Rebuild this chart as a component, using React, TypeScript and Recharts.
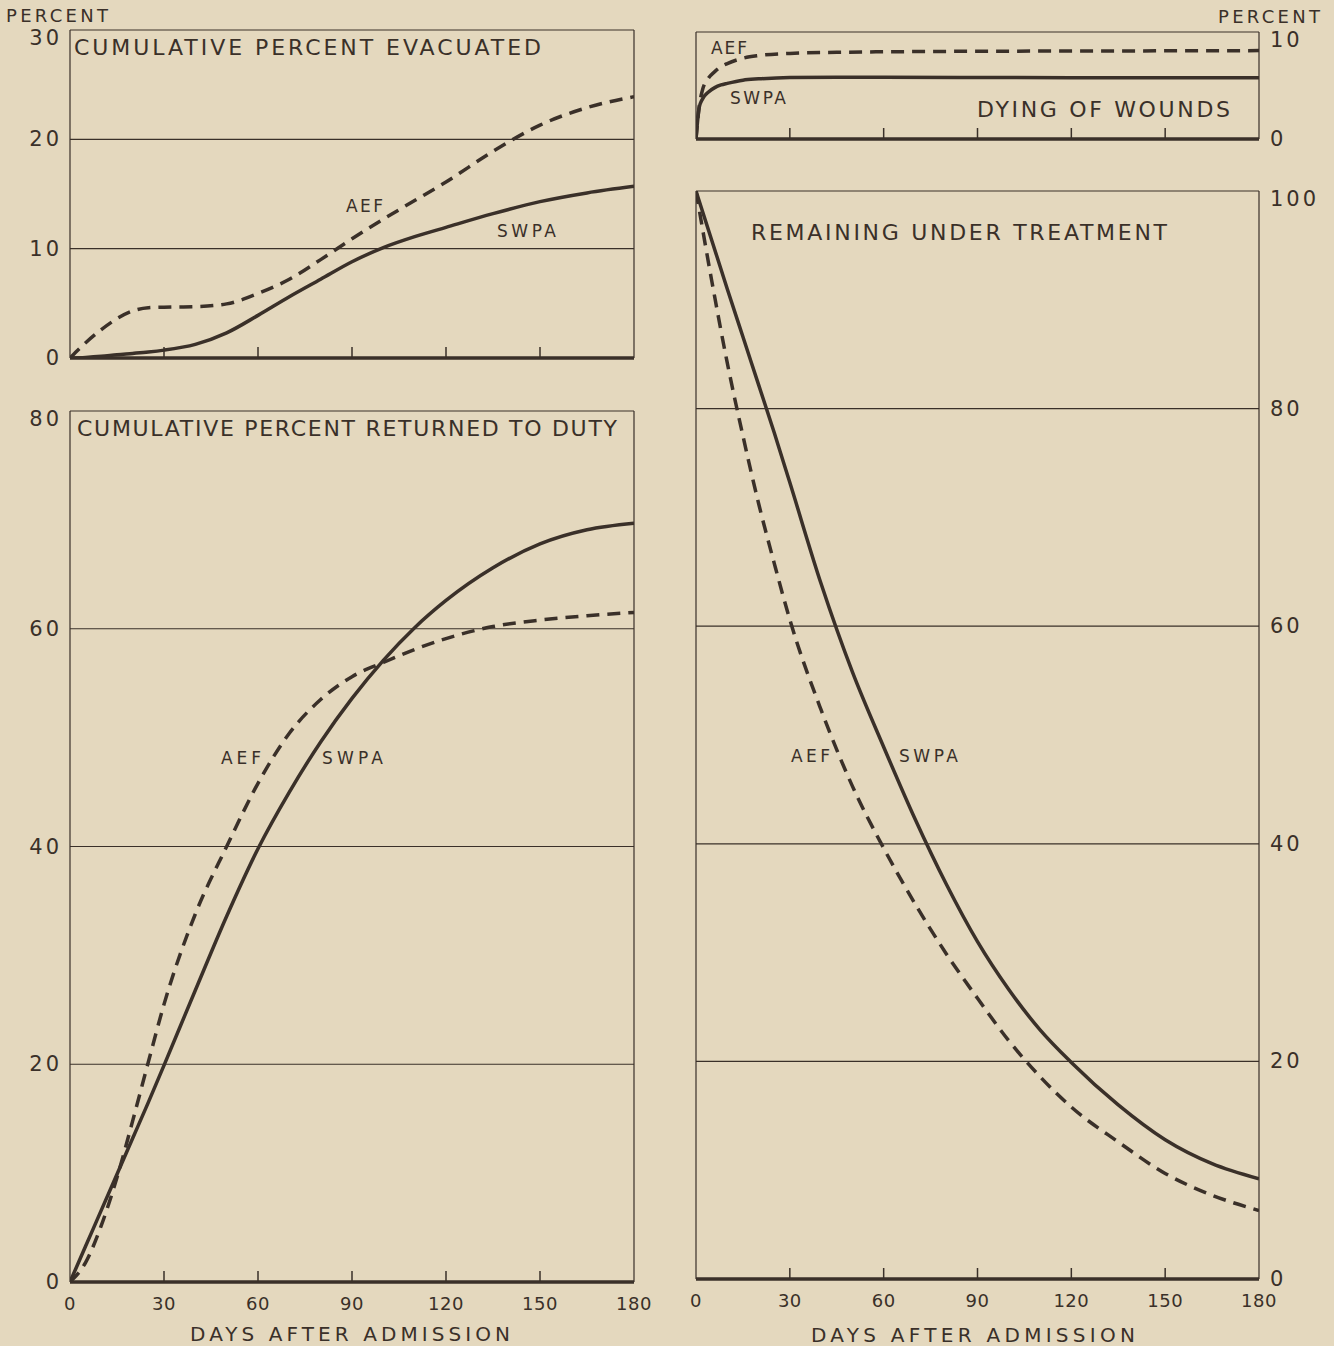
import { LineChart, Line, XAxis, YAxis, CartesianGrid, ReferenceLine } from 'recharts'

const INK = '#3a3029'
const PAPER = '#e4d8be'
const FONT = '"DejaVu Sans", Verdana, sans-serif'
const W = 1334
const H = 1346
const AX_H = 40 // room for the day labels
const AX_W = 50 // room for the percent labels

// days after admission (shared by evacuated / returned / remaining panels)
const days = [0, 5, 10, 15, 20, 25, 30, 40, 50, 60, 70, 80, 90, 100, 110, 120, 135, 150, 165, 180]
const dayTicks = [0, 30, 60, 90, 120, 150, 180]

// cumulative percent evacuated
const evacAEF = [0, 1.4, 2.6, 3.6, 4.3, 4.6, 4.65, 4.7, 4.95, 5.9, 7.2, 9.0, 10.9, 12.7, 14.4, 16.1, 18.9, 21.3, 22.9, 23.9]
const evacSWPA = [0, 0.05, 0.15, 0.3, 0.42, 0.55, 0.72, 1.25, 2.3, 3.9, 5.6, 7.2, 8.8, 10.1, 11.1, 11.95, 13.2, 14.3, 15.1, 15.7]

// cumulative percent returned to duty
const dutyAEF = [0, 1.8, 5.2, 9.6, 14.8, 20.2, 25.5, 33.8, 40.0, 45.8, 50.4, 53.5, 55.6, 56.9, 58.1, 59.1, 60.2, 60.8, 61.2, 61.5]
const dutySWPA = [0, 3.3, 6.6, 9.9, 13.2, 16.5, 19.9, 26.8, 33.6, 39.8, 45.0, 49.6, 53.6, 57.1, 60.1, 62.6, 65.6, 67.8, 69.1, 69.7]

// remaining under treatment
const remainAEF = [100, 91.8, 84.2, 77.5, 71.3, 65.8, 60.6, 52.3, 45.3, 39.6, 34.5, 29.9, 25.8, 21.9, 18.6, 15.8, 12.6, 9.7, 7.7, 6.3]
const remainSWPA = [100, 95.5, 91, 86.6, 82.2, 77.8, 73.2, 63.9, 55.8, 48.9, 42.3, 36.3, 31.0, 26.6, 22.9, 19.9, 16.0, 12.8, 10.6, 9.2]

// dying of wounds (denser near day 0)
const dieDays = [0, 1, 2, 4, 6, 8, 10, 15, 20, 30, 45, 60, 90, 120, 150, 180]
const dieAEF = [0, 3.0, 4.5, 5.7, 6.3, 6.75, 7.05, 7.55, 7.8, 8.0, 8.1, 8.15, 8.2, 8.22, 8.24, 8.26]
const dieSWPA = [0, 2.9, 3.7, 4.4, 4.8, 5.05, 5.2, 5.5, 5.62, 5.75, 5.78, 5.78, 5.75, 5.72, 5.72, 5.72]

const build = (xs: number[], a: number[], s: number[]) => xs.map((d, i) => ({ day: d, aef: a[i], swpa: s[i] }))

const xTick = (labels: boolean) => (p: any) => {
  const v = p.payload.value
  return (
    <g>
      {v !== 0 && v !== 180 && <line x1={p.x} x2={p.x} y1={p.y} y2={p.y - 11} stroke={INK} strokeWidth={1.5} />}
      {labels && (
        <text x={p.x} y={p.y + 21} textAnchor="middle" dominantBaseline="central" fill={INK} fontSize={18} letterSpacing={0.5} fontFamily={FONT}>
          {v}
        </text>
      )}
    </g>
  )
}

const yTick = (side: 'left' | 'right', max: number) => (p: any) => {
  const v = p.payload.value
  const dy = v === max ? 8 : 0
  return (
    <text
      x={side === 'left' ? p.x - 8 : p.x + 11}
      y={p.y + dy}
      textAnchor={side === 'left' ? 'end' : 'start'}
      dominantBaseline="central"
      fill={INK}
      fontSize={21}
      letterSpacing={3}
      fontFamily={FONT}
    >
      {v}
    </text>
  )
}

// plot rectangle in page pixels: l, r, t, b
function Panel({ data, l, r, t, b, yDomain, yTicks, side, xLabels }: any) {
  const margin = {
    top: t,
    bottom: H - b - AX_H,
    left: side === 'left' ? l - AX_W : l,
    right: side === 'right' ? W - r - AX_W : W - r,
  }
  return (
    <div style={{ position: 'absolute', left: 0, top: 0 }}>
      <LineChart width={W} height={H} data={data} margin={margin}>
        <CartesianGrid vertical={false} stroke={INK} strokeWidth={1.2} />
        <XAxis
          dataKey="day"
          type="number"
          domain={[0, 180]}
          ticks={dayTicks}
          height={AX_H}
          tickSize={0}
          tickMargin={0}
          tickLine={false}
          axisLine={{ stroke: INK, strokeWidth: 3.5 }}
          tick={xTick(xLabels)}
          interval={0}
          allowDataOverflow
        />
        <YAxis
          orientation={side}
          domain={yDomain}
          ticks={yTicks}
          width={AX_W}
          tickSize={0}
          tickMargin={0}
          tickLine={false}
          axisLine={false}
          tick={yTick(side, yDomain[1])}
          interval={0}
          allowDataOverflow
        />
        <ReferenceLine x={0} stroke={INK} strokeWidth={1.2} />
        <ReferenceLine x={180} stroke={INK} strokeWidth={1.2} />
        <Line dataKey="aef" type="monotone" stroke={INK} strokeWidth={3.5} strokeDasharray="13 8" dot={false} isAnimationActive={false} />
        <Line dataKey="swpa" type="monotone" stroke={INK} strokeWidth={3.5} dot={false} isAnimationActive={false} />
      </LineChart>
    </div>
  )
}

const notes = [
  { t: 'PERCENT', x: 6, y: 15, s: 18, len: 102 },
  { t: 'PERCENT', x: 1218, y: 16, s: 18, len: 102 },
  { t: 'CUMULATIVE PERCENT EVACUATED', x: 74, y: 47, s: 22, len: 467 },
  { t: 'CUMULATIVE PERCENT RETURNED TO DUTY', x: 77, y: 428, s: 22, len: 540 },
  { t: 'DYING OF WOUNDS', x: 977, y: 109, s: 22, len: 253 },
  { t: 'REMAINING UNDER TREATMENT', x: 751, y: 232, s: 22, len: 416 },
  { t: 'DAYS AFTER ADMISSION', x: 190, y: 1334, s: 20, len: 320 },
  { t: 'DAYS AFTER ADMISSION', x: 811, y: 1335, s: 20, len: 324 },
  { t: 'AEF', x: 346, y: 206, s: 17, len: 37 },
  { t: 'SWPA', x: 497, y: 231, s: 17, len: 59 },
  { t: 'AEF', x: 221, y: 758, s: 17, len: 40 },
  { t: 'SWPA', x: 322, y: 758, s: 17, len: 61 },
  { t: 'AEF', x: 791, y: 756, s: 17, len: 39 },
  { t: 'SWPA', x: 899, y: 756, s: 17, len: 59 },
  { t: 'AEF', x: 711, y: 48, s: 17, len: 36 },
  { t: 'SWPA', x: 730, y: 98, s: 17, len: 56 },
]

export default function App() {
  return (
    <div style={{ position: 'absolute', left: 0, top: 0, width: W, height: H, background: PAPER, overflow: 'hidden' }}>
      <Panel data={build(days, evacAEF, evacSWPA)} l={70} r={634} t={30} b={358} yDomain={[0, 30]} yTicks={[0, 10, 20, 30]} side="left" xLabels={false} />
      <Panel data={build(days, dutyAEF, dutySWPA)} l={70} r={634} t={411} b={1282} yDomain={[0, 80]} yTicks={[0, 20, 40, 60, 80]} side="left" xLabels />
      <Panel data={build(dieDays, dieAEF, dieSWPA)} l={696} r={1259} t={32} b={139} yDomain={[0, 10]} yTicks={[0, 10]} side="right" xLabels={false} />
      <Panel data={build(days, remainAEF, remainSWPA)} l={696} r={1259} t={191} b={1279} yDomain={[0, 100]} yTicks={[0, 20, 40, 60, 80, 100]} side="right" xLabels />
      <svg width={W} height={H} style={{ position: 'absolute', left: 0, top: 0, pointerEvents: 'none' }}>
        {notes.map((n, i) => (
          <text
            key={i}
            x={n.x}
            y={n.y}
            dominantBaseline="central"
            fill={INK}
            fontSize={n.s}
            fontFamily={FONT}
            textLength={n.len}
            lengthAdjust="spacing"
          >
            {n.t}
          </text>
        ))}
      </svg>
    </div>
  )
}
